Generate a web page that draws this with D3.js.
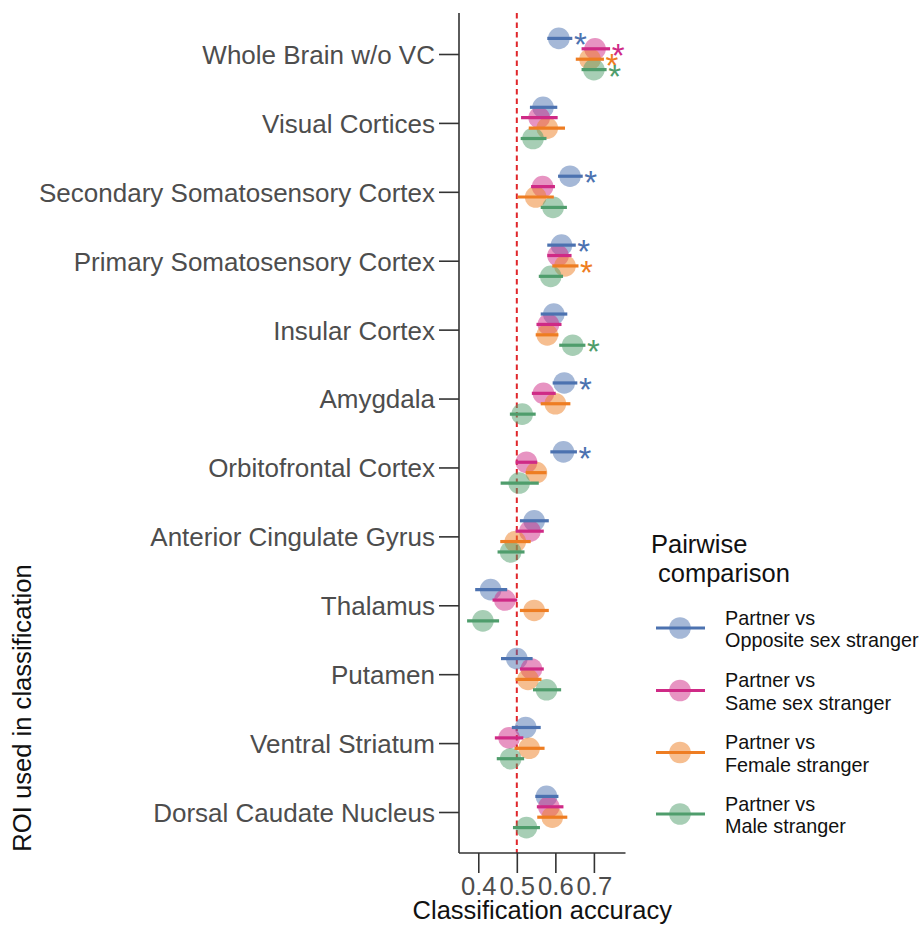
<!DOCTYPE html>
<html><head><meta charset="utf-8">
<script src="https://cdn.jsdelivr.net/npm/d3@7"></script>
<style>body{margin:0;background:#fff}svg{display:block}text{font-family:"Liberation Sans",Arial,Helvetica,sans-serif}</style>
</head><body>
<svg id="chart" width="921" height="929"></svg>
<script>
const categories = ["Whole Brain w/o VC","Visual Cortices","Secondary Somatosensory Cortex","Primary Somatosensory Cortex","Insular Cortex","Amygdala","Orbitofrontal Cortex","Anterior Cingulate Gyrus","Thalamus","Putamen","Ventral Striatum","Dorsal Caudate Nucleus"];
const seriesLabels = [["Partner vs","Opposite sex stranger"],["Partner vs","Same sex stranger"],["Partner vs","Female stranger"],["Partner vs","Male stranger"]];
const xTicks = [0.4,0.5,0.6,0.7];
const chance = 0.5;

const oppMean = [0.609,0.568,0.638,0.616,0.596,0.623,0.621,0.545,0.432,0.500,0.523,0.577];
const oppLo   = [0.579,0.534,0.607,0.579,0.562,0.593,0.587,0.508,0.392,0.459,0.487,0.548];
const oppHi   = [0.644,0.605,0.671,0.653,0.631,0.657,0.656,0.583,0.475,0.541,0.562,0.608];
const oppSig  = [1,0,1,1,0,1,1,0,0,0,0,0];

const sameMean = [0.703,0.558,0.567,0.607,0.582,0.569,0.525,0.534,0.469,0.538,0.480,0.583];
const sameLo   = [0.668,0.511,0.537,0.579,0.551,0.539,0.497,0.497,0.437,0.508,0.443,0.552];
const sameHi   = [0.742,0.606,0.599,0.642,0.616,0.601,0.553,0.570,0.501,0.570,0.517,0.621];
const sameSig  = [1,0,0,0,0,0,0,0,0,0,0,0];

const femMean = [0.690,0.579,0.549,0.625,0.579,0.600,0.551,0.496,0.545,0.529,0.532,0.592];
const femLo   = [0.653,0.531,0.502,0.592,0.549,0.562,0.523,0.457,0.508,0.497,0.494,0.553];
const femHi   = [0.726,0.625,0.596,0.660,0.608,0.639,0.577,0.536,0.583,0.564,0.572,0.631];
const femSig  = [1,0,0,1,0,0,0,0,0,0,0,0];

const maleMean = [0.700,0.542,0.594,0.588,0.645,0.514,0.506,0.484,0.412,0.577,0.484,0.525];
const maleLo   = [0.668,0.510,0.562,0.557,0.610,0.482,0.458,0.450,0.371,0.542,0.448,0.490];
const maleHi   = [0.733,0.577,0.630,0.620,0.678,0.549,0.557,0.520,0.454,0.615,0.519,0.560];
const maleSig  = [1,0,0,0,1,0,0,0,0,0,0,0];

const colors = ["#4c72b0","#cf2a86","#ee7d22","#4f9d6c"];

const series = [
  {mean:oppMean, lo:oppLo, hi:oppHi, sig:oppSig},
  {mean:sameMean, lo:sameLo, hi:sameHi, sig:sameSig},
  {mean:femMean, lo:femLo, hi:femHi, sig:femSig},
  {mean:maleMean, lo:maleLo, hi:maleHi, sig:maleSig}
];

const svg = d3.select("#chart");
const x = d3.scaleLinear().domain([0.35,0.782]).range([459,625.5]);
const y = d3.scalePoint().domain(categories).range([54,812]);
const plotTop = 13, plotBottom = 853, plotLeft = 459;
const dodge = d3.scalePoint().domain(d3.range(4)).range([-15.6,15.6]);
const R = 10.8;

// chance line
svg.append("line").attr("x1",x(chance)).attr("x2",x(chance)).attr("y1",plotTop).attr("y2",plotBottom)
  .attr("stroke","#e0262b").attr("stroke-width",2).attr("stroke-dasharray","5.5,4");

// circles
series.forEach((s,j)=>{
  svg.append("g").selectAll("circle").data(categories).join("circle")
    .attr("cx",(c,i)=>x(s.mean[i])).attr("cy",c=>y(c)+dodge(j)).attr("r",R)
    .attr("fill",colors[j]).attr("fill-opacity",0.5);
});
// CI lines + stars
series.forEach((s,j)=>{
  svg.append("g").selectAll("line").data(categories).join("line")
    .attr("x1",(c,i)=>x(s.lo[i])).attr("x2",(c,i)=>x(s.hi[i]))
    .attr("y1",c=>y(c)+dodge(j)).attr("y2",c=>y(c)+dodge(j))
    .attr("stroke",colors[j]).attr("stroke-width",3.2);
  svg.append("g").selectAll("text").data(categories.filter((c,i)=>s.sig[i])).join("text")
    .attr("x",c=>x(s.hi[categories.indexOf(c)])+8)
    .attr("y",c=>y(c)+dodge(j)+18)
    .attr("text-anchor","middle").attr("font-size",33).attr("fill",colors[j]).text("*");
});

// y axis
const yAxis = svg.append("g").attr("transform",`translate(${plotLeft},0)`)
  .call(d3.axisLeft(y).tickSize(20).tickPadding(4));
yAxis.select(".domain").remove();
yAxis.append("line").attr("x1",0).attr("x2",0).attr("y1",plotTop).attr("y2",plotBottom).attr("stroke","#333").attr("stroke-width",1.6);
yAxis.selectAll(".tick line").attr("stroke","#333").attr("stroke-width",1.6);
yAxis.selectAll(".tick text").attr("font-size",26).attr("fill","#4d4d4d").attr("dy","0.36em")
  .style("font-family",'"Liberation Sans",Arial,sans-serif');

// x axis
const xAxis = svg.append("g").attr("transform",`translate(0,${plotBottom})`)
  .call(d3.axisBottom(x).tickValues(xTicks).tickFormat(d3.format(".1f")).tickSize(20).tickPadding(4));
xAxis.select(".domain").remove();
xAxis.append("line").attr("x1",x.range()[0]).attr("x2",x.range()[1]).attr("y1",0).attr("y2",0).attr("stroke","#333").attr("stroke-width",1.6);
xAxis.selectAll(".tick line").attr("stroke","#333").attr("stroke-width",1.6);
xAxis.selectAll(".tick text").attr("font-size",25.6).attr("fill","#4d4d4d").attr("dy",null).attr("y",42)
  .style("font-family",'"Liberation Sans",Arial,sans-serif');

// axis titles
svg.append("text").attr("x",(x.range()[0]+x.range()[1])/2).attr("y",919).attr("text-anchor","middle")
  .attr("font-size",25.5).attr("fill","#111").text("Classification accuracy");
svg.append("text").attr("transform","translate(31,708) rotate(-90)").attr("text-anchor","middle")
  .attr("font-size",25.6).attr("fill","#111").text("ROI used in classification");

// legend
const lg = svg.append("g");
lg.append("text").attr("x",651).attr("y",553).attr("font-size",25.5).attr("fill","#111").text("Pairwise");
lg.append("text").attr("x",658).attr("y",582).attr("font-size",25.5).attr("fill","#111").text("comparison");
const legY = [628,690.5,752.5,814];
seriesLabels.forEach((lab,j)=>{
  const cy = legY[j];
  lg.append("circle").attr("cx",680).attr("cy",cy).attr("r",R).attr("fill",colors[j]).attr("fill-opacity",0.5);
  lg.append("line").attr("x1",656).attr("x2",705).attr("y1",cy).attr("y2",cy).attr("stroke",colors[j]).attr("stroke-width",3.2);
  lg.append("text").attr("x",725).attr("y",cy-3.2).attr("font-size",19.8).attr("fill","#111").text(lab[0]);
  lg.append("text").attr("x",725).attr("y",cy+19.4).attr("font-size",19.8).attr("fill","#111").text(lab[1]);
});
</script>
</body></html>
